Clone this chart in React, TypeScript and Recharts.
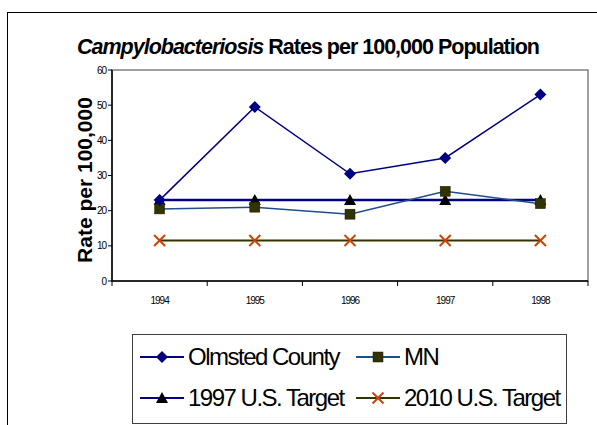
import React from 'react';
import { LineChart, Line, XAxis, YAxis, Legend } from 'recharts';

const years = ['1994', '1995', '1996', '1997', '1998'];
const olmsted = [23, 49.5, 30.5, 35, 53];
const mn = [20.5, 21, 19, 25.5, 22];
const target1997 = [23, 23, 23, 23, 23];
const target2010 = [11.5, 11.5, 11.5, 11.5, 11.5];
const yTicks = [0, 10, 20, 30, 40, 50, 60];

const data = years.map((y, i) => ({
  year: y,
  olmsted: olmsted[i],
  mn: mn[i],
  t1997: target1997[i],
  t2010: target2010[i],
}));

const FONT = 'Arial, "Liberation Sans", sans-serif';
const PLOT_W = 476;
const HALF_BAND = PLOT_W / years.length / 2;

const Diamond = (props: any) => {
  const { cx, cy, fill } = props;
  if (cx == null || cy == null) return null;
  const r = 6;
  return <path d={`M${cx},${cy - r}L${cx + r},${cy}L${cx},${cy + r}L${cx - r},${cy}Z`} fill={fill} />;
};
const Square = (props: any) => {
  const { cx, cy, fill } = props;
  if (cx == null || cy == null) return null;
  const s = 5;
  return <rect x={cx - s} y={cy - s} width={2 * s} height={2 * s} fill={fill} stroke="#1a1a00" strokeWidth={0.5} />;
};
const Triangle = (props: any) => {
  const { cx, cy, fill } = props;
  if (cx == null || cy == null) return null;
  const s = 6;
  return <path d={`M${cx},${cy - s}L${cx + s},${cy + s - 1}L${cx - s},${cy + s - 1}Z`} fill={fill} />;
};
const Cross = (props: any) => {
  const { cx, cy, stroke } = props;
  if (cx == null || cy == null) return null;
  const s = 5.5;
  return (
    <g stroke={stroke} strokeWidth={2}>
      <line x1={cx - s} y1={cy - s} x2={cx + s} y2={cy + s} />
      <line x1={cx - s} y1={cy + s} x2={cx + s} y2={cy - s} />
    </g>
  );
};

const XTick = (props: any) => {
  const { x, y, payload, index } = props;
  return (
    <g>
      <line x1={x - HALF_BAND} y1={y} x2={x - HALF_BAND} y2={y + 5} stroke="#000" strokeWidth={1} />
      {index === years.length - 1 && (
        <line x1={x + HALF_BAND} y1={y} x2={x + HALF_BAND} y2={y + 5} stroke="#000" strokeWidth={1} />
      )}
      <text x={x} y={y + 23} textAnchor="middle" fontFamily={FONT} fontSize={10} letterSpacing={-1} fill="#000">
        {payload.value}
      </text>
    </g>
  );
};

const legendItems = [
  { label: 'Olmsted County', line: '#000080', marker: 'diamond', mc: '#000080', x: 8, y: 23, tx: 56 },
  { label: 'MN', line: '#1f4e8c', marker: 'square', mc: '#333300', x: 224, y: 23, tx: 272 },
  { label: '1997 U.S. Target', line: '#000080', marker: 'triangle', mc: '#000000', x: 8, y: 64, tx: 56 },
  { label: '2010 U.S. Target', line: '#333300', marker: 'cross', mc: '#cc4400', x: 224, y: 64, tx: 272 },
];

const renderMarker = (kind: string, cx: number, cy: number, c: string) => {
  if (kind === 'diamond') return <Diamond cx={cx} cy={cy} fill={c} />;
  if (kind === 'square') return <Square cx={cx} cy={cy} fill={c} />;
  if (kind === 'triangle') return <Triangle cx={cx} cy={cy} fill={c} />;
  return <Cross cx={cx} cy={cy} stroke={c} />;
};

const LegendContent = () => (
  <svg width={435} height={90} style={{ display: 'block' }}>
    <rect x={0.5} y={0.5} width={434} height={89} fill="#fff" stroke="#404040" strokeWidth={1} />
    {legendItems.map((it) => (
      <g key={it.label}>
        <line x1={it.x} y1={it.y} x2={it.x + 44} y2={it.y} stroke={it.line} strokeWidth={2} />
        {renderMarker(it.marker, it.x + 22, it.y, it.mc)}
        <text x={it.tx} y={it.y + 8} fontFamily={FONT} fontSize={24} letterSpacing={-1.5} fill="#000">
          {it.label}
        </text>
      </g>
    ))}
  </svg>
);

export default function App() {
  return (
    <div style={{ position: 'absolute', left: 0, top: 0, width: 597, height: 425, background: '#fff', overflow: 'hidden' }}>
      <div
        style={{
          position: 'absolute',
          left: 7,
          top: 12,
          width: 600,
          height: 420,
          borderTop: '1px solid #000',
          borderLeft: '1px solid #000',
          boxSizing: 'border-box',
        }}
      />
      <svg width={597} height={425} style={{ position: 'absolute', left: 0, top: 0 }}>
        <text x={308} y={54} textAnchor="middle" fontFamily={FONT} fontSize={21.5} fontWeight="bold" letterSpacing={-1} fill="#000">
          <tspan fontStyle="italic">Campylobacteriosis</tspan>
          <tspan> Rates per 100,000 Population</tspan>
        </text>
        <rect x={112} y={70} width={476} height={211} fill="none" stroke="#808080" strokeWidth={1.5} />
        <text
          x={0}
          y={0}
          transform="translate(92,180) rotate(-90)"
          textAnchor="middle"
          fontFamily={FONT}
          fontSize={21}
          fontWeight="bold"
          fill="#000"
        >
          Rate per 100,000
        </text>
      </svg>
      <div style={{ position: 'absolute', left: 0, top: 0 }}>
        <LineChart width={597} height={425} data={data} margin={{ top: 70, right: 9, bottom: 114, left: 72 }}>
          <XAxis
            dataKey="year"
            axisLine={{ stroke: '#000', strokeWidth: 1.5 }}
            tickLine={false}
            tickSize={0}
            tickMargin={0}
            tick={<XTick />}
            padding={{ left: HALF_BAND, right: HALF_BAND }}
            interval={0}
            height={30}
          />
          <YAxis
            domain={[0, 60]}
            ticks={yTicks}
            axisLine={{ stroke: '#000', strokeWidth: 1.5 }}
            tickLine={{ stroke: '#000' }}
            tickSize={4}
            tick={{ fontSize: 10, fill: '#000', fontFamily: FONT, letterSpacing: -1 }}
            width={40}
            interval={0}
          />
          <Legend
            layout="horizontal"
            verticalAlign="middle"
            align="center"
            content={<LegendContent />}
            wrapperStyle={{ position: 'absolute', left: 132, top: 334, width: 435, height: 90 }}
          />
          <Line dataKey="t2010" name="2010 U.S. Target" stroke="#333300" strokeWidth={2} dot={<Cross stroke="#cc4400" />} isAnimationActive={false} />
          <Line dataKey="t1997" name="1997 U.S. Target" stroke="#000080" strokeWidth={2.5} dot={<Triangle fill="#000" />} isAnimationActive={false} />
          <Line dataKey="mn" name="MN" stroke="#1f4e8c" strokeWidth={1.5} dot={<Square fill="#333300" />} isAnimationActive={false} />
          <Line dataKey="olmsted" name="Olmsted County" stroke="#000080" strokeWidth={1.5} dot={<Diamond fill="#000080" />} isAnimationActive={false} />
        </LineChart>
      </div>
    </div>
  );
}
